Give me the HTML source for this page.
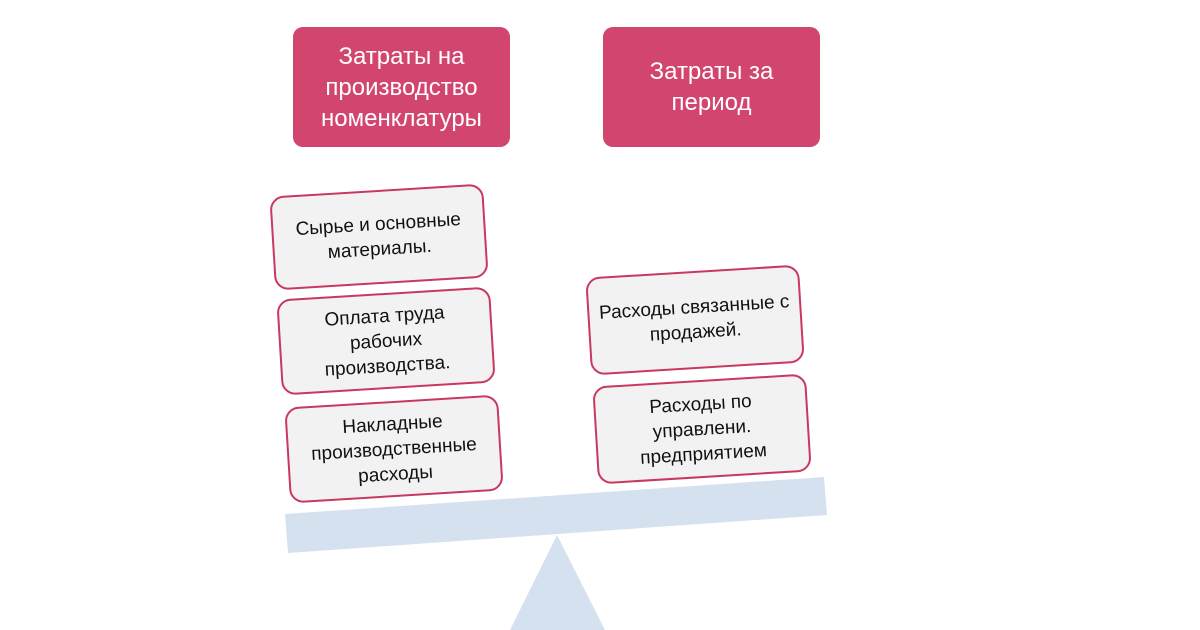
<!DOCTYPE html>
<html><head><meta charset="utf-8"><style>
body{margin:0;width:1200px;height:630px;background:#fff;overflow:hidden;position:relative;font-family:"Liberation Sans","DejaVu Sans",sans-serif}
.h{position:absolute;background:#d2456e;border-radius:10px;color:#fff;font-size:24px;line-height:31px;display:flex;align-items:center;justify-content:center;text-align:center}
.b{position:absolute;width:214px;background:#f2f2f2;border:2px solid #c9385f;border-radius:14px;box-sizing:border-box;display:flex;align-items:center;justify-content:center;text-align:center;font-size:19px;line-height:25px;color:#111;transform:rotate(-3.5deg)}
</style></head><body>
<div class="h" style="left:293px;top:27px;width:217px;height:120px">Затраты на<br>производство<br>номенклатуры</div>
<div class="h" style="left:603px;top:27px;width:217px;height:120px">Затраты за<br>период</div>
<svg width="1200" height="630" style="position:absolute;left:0;top:0">
<polygon points="285,514 824,477 827,515 288,553" fill="#d6e1ef"/>
<polygon points="557,535 605,630 510,630" fill="#d6e1ef"/>
</svg>
<div class="b" style="left:272px;top:190px;height:94px">Сырье и основные<br>материалы.</div>
<div class="b" style="left:279px;top:293px;height:96px">Оплата труда<br>рабочих<br>производства.</div>
<div class="b" style="left:287px;top:401px;height:96px">Накладные<br>производственные<br>расходы</div>
<div class="b" style="left:588px;top:271px;height:98px">Расходы связанные с<br>продажей.</div>
<div class="b" style="left:595px;top:380px;height:98px">Расходы по<br>управлени.<br>предприятием</div>
</body></html>
